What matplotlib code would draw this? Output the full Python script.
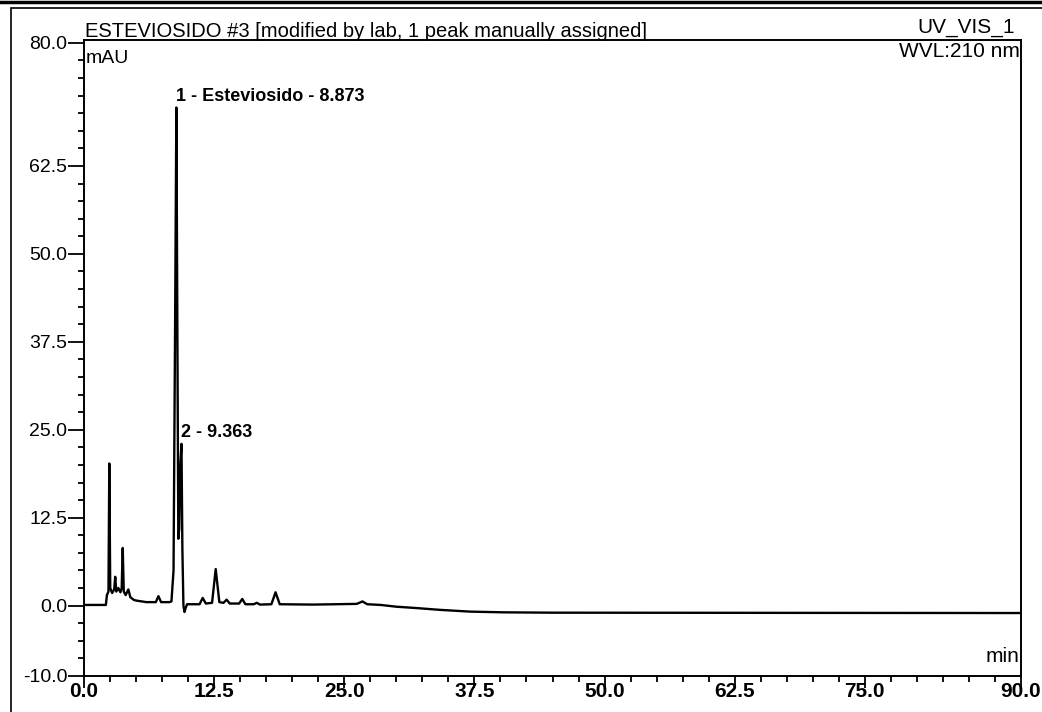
#!/usr/bin/env python3

import matplotlib.pyplot as plt
from matplotlib.lines import Line2D
from matplotlib.patches import Rectangle
from matplotlib.ticker import FixedLocator, MultipleLocator

plt.rcParams['font.family'] = ['Liberation Sans', 'DejaVu Sans']

# chromatogram trace (min, mAU)
times = [0.0, 2.1, 2.2, 2.35, 2.43, 2.52, 2.7, 2.9, 3.0, 3.1, 3.3, 3.5,
         3.62, 3.72, 3.82, 4.0, 4.26, 4.45, 4.8, 5.1, 6.0, 6.9, 7.15, 7.4,
         8.2, 8.4, 8.6, 8.75, 8.873, 8.98, 9.06, 9.15, 9.25, 9.363, 9.45,
         9.55, 9.65, 9.75, 9.9, 11.1, 11.4, 11.7, 12.3, 12.65, 13.0, 13.4,
         13.7, 14.0, 14.9, 15.2, 15.5, 16.3, 16.6, 16.9, 18.0, 18.4, 18.8,
         22.0, 26.2, 26.75, 27.2, 28.5, 30.0, 32.0, 34.2, 37.1, 40.3, 45.0,
         90.0]
signal = [0.1, 0.1, 1.5, 2.0, 20.2, 2.5, 1.8, 2.3, 4.1, 2.0, 2.5, 1.9,
          2.5, 8.2, 2.0, 1.5, 2.3, 1.2, 0.8, 0.7, 0.5, 0.5, 1.35, 0.5,
          0.5, 0.6, 5.0, 40.0, 70.8, 35.0, 9.5, 11.0, 20.0, 23.0, 8.0,
          0.0, -0.9, -0.4, 0.2, 0.2, 1.1, 0.3, 0.4, 5.2, 0.5, 0.4,
          0.85, 0.3, 0.3, 0.95, 0.2, 0.2, 0.4, 0.15, 0.2, 1.9, 0.2,
          0.15, 0.25, 0.6, 0.2, 0.1, -0.15, -0.35, -0.6, -0.85, -0.95, -1.0,
          -1.05]

peak_times = [8.873, 9.363]
peak_heights = [70.8, 23.0]
peak_labels = ["1 - Esteviosido - 8.873", "2 - 9.363"]

x_ticks = [0.0, 12.5, 25.0, 37.5, 50.0, 62.5, 75.0, 90.0]
y_ticks = [-10.0, 0.0, 12.5, 25.0, 37.5, 50.0, 62.5, 80.0]

fig = plt.figure(figsize=(10.42, 7.12), dpi=100)
ax = fig.add_axes([84 / 1042, 1 - 676 / 712, 937 / 1042, 636 / 712])

ax.plot(times, signal, color="black", lw=1.7)

ax.set_xlim(0, 90)
ax.set_ylim(-10, 80.4)

# Ticks
ax.xaxis.set_major_locator(FixedLocator(x_ticks))
ax.yaxis.set_major_locator(FixedLocator(y_ticks))
ax.xaxis.set_minor_locator(MultipleLocator(2.5))
ax.yaxis.set_minor_locator(MultipleLocator(2.5))
ax.set_xticklabels([f"{v:.1f}" for v in x_ticks], fontsize=15, fontweight="bold")
ax.set_yticklabels([f"{v:.1f}" for v in y_ticks], fontsize=14)
ax.tick_params(axis="y", which="major", length=11.5, width=1.3, pad=0.5)
ax.tick_params(axis="x", which="major", length=8.5, width=1.3, pad=-4)
ax.tick_params(which="minor", length=4, width=1.3)
for s in ax.spines.values():
    s.set_linewidth(1.4)

## Peak labels
for t, h, lab in zip(peak_times, peak_heights, peak_labels):
    ax.annotate(lab, (t, h), xytext=(0, 2), textcoords="offset points",
                fontsize=13, fontweight="bold", ha="left", va="bottom")

## Header and axis units
ax.text(0.001, 1.005, "ESTEVIOSIDO #3 [modified by lab, 1 peak manually assigned]",
        transform=ax.transAxes, fontsize=14.5, ha="left", va="baseline")
ax.text(0.9935, 1.011, "UV_VIS_1", transform=ax.transAxes, fontsize=15,
        ha="right", va="baseline")
ax.text(0.9985, 0.997, "WVL:210 nm", transform=ax.transAxes, fontsize=15,
        ha="right", va="top")
ax.text(0.002, 0.985, "mAU", transform=ax.transAxes, fontsize=14,
        ha="left", va="top")
ax.text(0.9985, 0.015, "min", transform=ax.transAxes, fontsize=15,
        ha="right", va="bottom")

# Page frame of the printout
fig.add_artist(Rectangle((11 / 1042, -0.1), 1.2, 1 - 8 / 712 + 0.1,
                         transform=fig.transFigure, fill=False, lw=1.2,
                         edgecolor="black"))
fig.add_artist(Line2D([0, 1], [1 - 1.5 / 712, 1 - 1.5 / 712],
                      transform=fig.transFigure, color="black", lw=2.5))

fig.savefig("out.png", dpi=100)
